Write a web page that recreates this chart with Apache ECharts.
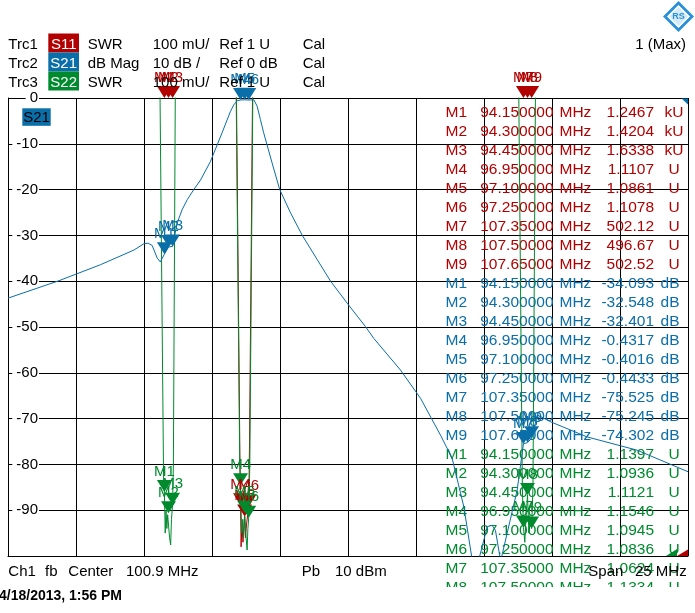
<!DOCTYPE html>
<html>
<head>
<meta charset="utf-8">
<script src="https://cdn.jsdelivr.net/npm/echarts@6/dist/echarts.min.js"></script>
<style>
html,body{margin:0;padding:0;background:#fff;}
#c{width:695px;height:613px;}
</style>
</head>
<body>
<div id="c"></div>
<script>
// ---------- data ----------
const fStart = 88.4;   // MHz (center 100.9, span 25)
const fSpan = 25;

// S21 trace (dB)
const s21Freq = [88.40, 90.27, 91.80, 93.03, 93.40, 93.55, 93.70, 93.89, 94.00, 94.15, 94.30, 94.45, 94.62, 94.80, 94.99, 95.23, 95.48, 95.84, 96.27, 96.58, 96.70, 96.83, 96.95, 97.10, 97.25, 97.44, 97.56, 97.68, 97.80, 98.11, 98.39, 98.79, 99.22, 99.77, 100.26, 100.87, 101.54, 101.85, 102.83, 103.57, 104.30, 104.73, 105.16, 105.47, 105.70, 106.02, 106.20, 106.32, 106.51, 106.58, 107.12, 107.35, 107.50, 107.65, 107.86, 108.35, 109.69, 111.53, 113.40];
const s21Val = [-43.7, -39.9, -36.4, -33.2, -31.8, -31.7, -32.2, -35.0, -35.8, -34.093, -32.548, -32.401, -27.3, -24.4, -22.2, -20.0, -17.9, -13.9, -7.6, -2.9, -1.5, -0.6, -0.4317, -0.4016, -0.4433, -0.4, -1.8, -4.7, -7.6, -14.2, -20.0, -25.1, -30.0, -35.3, -40.0, -44.8, -49.9, -52.5, -59.4, -65.6, -73.6, -78.7, -89.3, -101, -101, -93.6, -93.3, -94.4, -101, -99.4, -85.6, -75.525, -75.245, -74.302, -69.2, -70.7, -74.0, -76.9, -81.6];

// S22 trace (SWR, values above 2 are off-scale)
const s22Freq = [88.40, 93.80, 93.99, 94.12, 94.15, 94.18, 94.21, 94.24, 94.27, 94.30, 94.34, 94.38, 94.41, 94.45, 94.48, 94.55, 94.70, 96.60, 96.79, 96.92, 96.95, 96.99, 97.03, 97.06, 97.10, 97.14, 97.19, 97.22, 97.25, 97.29, 97.40, 97.60, 107.00, 107.18, 107.31, 107.35, 107.40, 107.45, 107.50, 107.55, 107.60, 107.65, 107.70, 107.79, 108.00, 113.40];
const s22Swr = [6, 6, 2.0, 1.17, 1.1397, 1.05, 1.10, 1.06, 1.09, 1.0936, 1.04, 1.024, 1.08, 1.1121, 1.2, 2.0, 6, 6, 2.0, 1.2, 1.1546, 1.05, 1.08, 1.04, 1.0945, 1.05, 1.013, 1.06, 1.0836, 1.2, 2.0, 6, 6, 2.0, 1.15, 1.0624, 1.03, 1.09, 1.1334, 1.05, 1.08, 1.06, 1.15, 2.0, 6, 6];

// S11 trace (SWR)
const s11Freq = [88.40, 96.60, 96.80, 96.925, 96.95, 96.97, 97.00, 97.04, 97.10, 97.13, 97.17, 97.25, 97.28, 97.39, 97.60, 113.40];
const s11Swr = [6, 6, 2.0, 1.22, 1.1107, 1.02, 1.07, 1.03, 1.0861, 1.04, 1.07, 1.1078, 1.25, 2.0, 6, 6];

// markers
const markerNames = ['M1','M2','M3','M4','M5','M6','M7','M8','M9'];
const markerFreq = [94.15, 94.30, 94.45, 96.95, 97.10, 97.25, 107.35, 107.50, 107.65];
const s11Marker = [1246.7, 1420.4, 1633.8, 1.1107, 1.0861, 1.1078, 502.12, 496.67, 502.52]; // U
const s21Marker = [-34.093, -32.548, -32.401, -0.4317, -0.4016, -0.4433, -75.525, -75.245, -74.302]; // dB
const s22Marker = [1.1397, 1.0936, 1.1121, 1.1546, 1.0945, 1.0836, 1.0624, 1.1334, 1.0600]; // U

// header
const trcNames = ['Trc1','Trc2','Trc3'];
const trcParams = ['S11','S21','S22'];
const trcFormats = ['SWR','dB Mag','SWR'];
const trcScales = ['100 mU/','10 dB /','100 mU/'];
const trcRefs = ['Ref 1 U','Ref 0 dB','Ref 1 U'];
const trcCal = ['Cal','Cal','Cal'];

// ---------- styles ----------
const FONT = '"Liberation Sans", Arial, sans-serif';
const RED = '#b20000';
const BLUE = '#0a6ea8';
const GREEN = '#008a2e';
const trcColors = [RED, BLUE, GREEN];

const X = f => +(f - fStart).toFixed(4);

function fmtDigits(v, total) {
  const a = Math.abs(v);
  const intDigits = a < 1 ? 1 : Math.floor(Math.log10(a)) + 1;
  return v.toFixed(Math.max(0, total - intDigits));
}

const G = [];
function txt(x, y, s, color, size, align, z, weight) {
  G.push({
    type: 'text', x: x, y: y, z: z == null ? 10 : z, silent: true,
    style: {
      text: s, fill: color || '#000',
      font: (weight ? weight + ' ' : '') + (size || 15) + 'px ' + FONT,
      textAlign: align || 'left', textVerticalAlign: 'middle'
    }
  });
}
function rect(x, y, w, h, fill, z) {
  G.push({type: 'rect', z: z == null ? 9 : z, silent: true, shape: {x: x, y: y, width: w, height: h}, style: {fill: fill}});
}
function poly(pts, fill, z) {
  G.push({type: 'polygon', z: z == null ? 10 : z, silent: true, shape: {points: pts}, style: {fill: fill}});
}

// header rows
for (let k = 0; k < 3; k++) {
  const y = 44.5 + 19 * k;
  txt(8.3, y, trcNames[k]);
  rect(48.3, 33.5 + 19 * k, 30.7, 19, trcColors[k]);
  txt(63.7, y, trcParams[k], '#fff', 15, 'center');
  txt(87.7, y, trcFormats[k]);
  txt(152.7, y, trcScales[k]);
  txt(219.3, y, trcRefs[k]);
  txt(302.7, y, trcCal[k]);
}
txt(686, 44.5, '1 (Max)', '#000', 15, 'right');

// R&S logo
poly([[678.5, 1], [694, 16.5], [678.5, 32], [663, 16.5]], '#2a8fd4');
G.push({type: 'polygon', z: 11, silent: true, shape: {points: [[678.5, 6], [689, 16.5], [678.5, 27], [668, 16.5]]}, style: {fill: '#d6ebfa', stroke: '#fff', lineWidth: 1.5}});
txt(678.5, 16.5, 'RS', '#2a8fd4', 9, 'center', 12, 'bold');

// trace label inside plot
rect(22.3, 108.3, 28.4, 17.5, BLUE, 9);
txt(36.5, 117.5, 'S21', '#000', 15, 'center');

// marker table
const tbl = [
  {vals: s11Marker, color: RED, kind: 'U'},
  {vals: s21Marker, color: BLUE, kind: 'dB'},
  {vals: s22Marker, color: GREEN, kind: 'U'}
];
tbl.forEach((t, ti) => {
  for (let i = 0; i < 9; i++) {
    const y = 112.5 + 19 * (ti * 9 + i);
    txt(445.5, y, markerNames[i], t.color, 15.5, 'left', 1);
    txt(553.5, y, fmtDigits(markerFreq[i], 8), t.color, 15.5, 'right', 1);
    txt(559.5, y, 'MHz', t.color, 15.5, 'left', 1);
    let v = t.vals[i], unit = t.kind;
    if (unit === 'U' && v >= 1000) { v = v / 1000; unit = 'kU'; }
    txt(654, y, fmtDigits(v, 5), t.color, 15.5, 'right', 1);
    txt(unit === 'dB' ? 670 : 674, y, unit, t.color, 15.5, 'center', 1);
  }
});
rect(430, 587, 265, 26, '#fff', 5);

// corner indicators
poly([[681.5, 98.5], [688, 98.5], [688, 104.5]], BLUE);
poly([[666, 556], [677, 556], [677, 549]], GREEN);
poly([[677, 556], [688, 556], [688, 549.5]], RED);

// footer
const fy = 572.3;
txt(8.3, fy, 'Ch1');
txt(45, fy, 'fb');
txt(68.3, fy, 'Center');
txt(126, fy, (fStart + fSpan / 2).toFixed(1) + ' MHz');
txt(301.7, fy, 'Pb');
txt(335, fy, '10 dBm');
txt(588.3, fy, 'Span');
txt(686.7, fy, fSpan + ' MHz', '#000', 15, 'right');
txt(-1, 595.7, '4/18/2013, 1:56 PM', '#000', 14, 'left', 10, 'bold');

// ---------- chart ----------
const chart = echarts.init(document.getElementById('c'), null, {renderer: 'canvas'});

const TRI = 'path://M0,0L10,0L5,10Z';
function markerSeries(vals, color, axisIdx, clampMax) {
  return {
    type: 'scatter', yAxisIndex: axisIdx, silent: true, clip: false, z: 6,
    symbol: TRI, symbolSize: [15, 12], symbolOffset: [0, -6],
    itemStyle: {color: color, opacity: 1},
    label: {show: true, position: 'top', distance: 1, formatter: p => p.name, color: color, fontSize: 15, fontFamily: FONT},
    data: vals.map((v, i) => ({name: markerNames[i], value: [X(markerFreq[i]), clampMax == null ? v : Math.min(v, clampMax)]}))
  };
}
function traceSeries(fr, vals, color, axisIdx, z) {
  return {
    type: 'line', yAxisIndex: axisIdx, silent: true, z: z, clip: true,
    symbol: 'none', showSymbol: false,
    lineStyle: {color: color, width: 1},
    data: fr.map((f, i) => [X(f), vals[i]])
  };
}

const option = {
  animation: false,
  backgroundColor: '#fff',
  grid: {left: 8, top: 98, right: 7, bottom: 57, containLabel: false, outerBoundsMode: 'none'},
  xAxis: {
    type: 'value', min: 0, max: fSpan, interval: 2.5,
    axisLabel: {show: false}, axisTick: {show: false},
    axisLine: {show: true, onZero: false, lineStyle: {color: '#000', width: 1}},
    splitLine: {show: true, lineStyle: {color: '#000', width: 1}}
  },
  yAxis: [{
    type: 'value', min: -100, max: 0, interval: 10,
    axisLine: {show: true, onZero: false, lineStyle: {color: '#000', width: 1}},
    axisTick: {show: false},
    splitLine: {show: true, lineStyle: {color: '#000', width: 1}},
    axisLabel: {
      inside: true, align: 'right', margin: 31, color: '#000', fontSize: 15, fontFamily: FONT,
      backgroundColor: '#fff', padding: [0, 1, 0, 4], showMinLabel: false
    }
  }, {
    type: 'value', min: 1, max: 2, show: false
  }],
  series: [
    traceSeries(s11Freq, s11Swr, RED, 1, 2),
    traceSeries(s22Freq, s22Swr, GREEN, 1, 3),
    traceSeries(s21Freq, s21Val, BLUE, 0, 4),
    markerSeries(s11Marker, RED, 1, 2),
    markerSeries(s21Marker, BLUE, 0, null),
    markerSeries(s22Marker, GREEN, 1, 2)
  ],
  graphic: {elements: G}
};
chart.setOption(option);
</script>
</body>
</html>
